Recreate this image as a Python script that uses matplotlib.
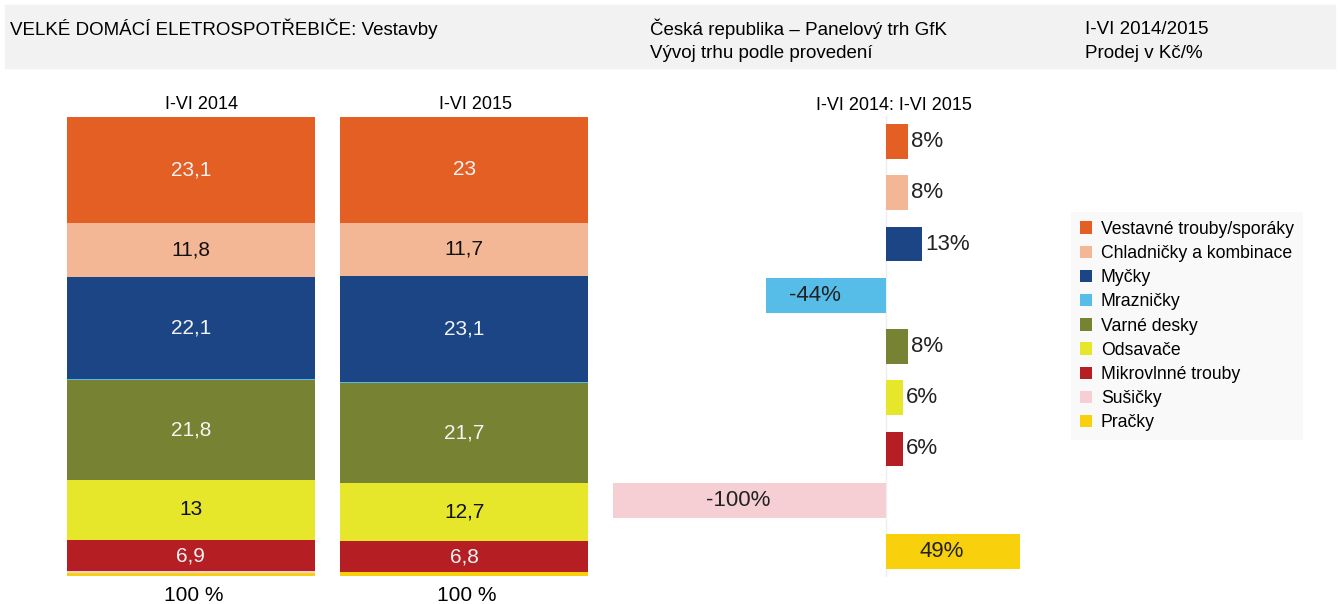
import matplotlib
matplotlib.use("Agg")
import matplotlib.pyplot as plt
from matplotlib.patches import Patch, Rectangle

plt.rcParams['font.family'] = ['Liberation Sans', 'DejaVu Sans']

# =============================================================================
# data
# =============================================================================

categories = ["Vestavné trouby/sporáky", "Chladničky a kombinace", "Myčky",
              "Mrazničky", "Varné desky", "Odsavače", "Mikrovlnné trouby",
              "Sušičky", "Pračky"]
colors = ["#e35f24", "#f4b795", "#1b4584", "#55bde8", "#778233",
          "#e6e62b", "#b51f24", "#f5cfd3", "#f8d10c"]

periods = ["I-VI 2014", "I-VI 2015"]
share_2014 = [23.1, 11.8, 22.1, 0.3, 21.8, 13.0, 6.9, 0.3, 0.7]
share_2015 = [23.0, 11.7, 23.1, 0.2, 21.7, 12.7, 6.8, 0.0, 0.8]
share_labels_2014 = ["23,1", "11,8", "22,1", "", "21,8", "13", "6,9", "", ""]
share_labels_2015 = ["23", "11,7", "23,1", "", "21,7", "12,7", "6,8", "", ""]

change = [8, 8, 13, -44, 8, 6, 6, -100, 49]

# label colour on stacked bars: white on dark, black on light
dark = [True, False, True, False, True, False, True, False, False]

W, H = 1340, 604
fig = plt.figure(figsize=(W / 100, H / 100), dpi=100)


def fx(px):
    return px / W


def fy(py):
    return 1 - py / H


# header band
fig.patches.append(Rectangle((fx(5), fy(68)), fx(1330), 63 / H,
                             transform=fig.transFigure, color="#f2f2f2", zorder=0))
HF = 13.5
fig.text(fx(10), fy(29), "VELKÉ DOMÁCÍ ELETROSPOTŘEBIČE: Vestavby", fontsize=HF, va="center")
fig.text(fx(650), fy(29), "Česká republika – Panelový trh GfK", fontsize=HF, va="center")
fig.text(fx(650), fy(54), "Vývoj trhu podle provedení", fontsize=HF, va="center")
fig.text(fx(1085), fy(29), "I-VI 2014/2015", fontsize=HF, va="center")
fig.text(fx(1085), fy(54), "Prodej v Kč/%", fontsize=HF, va="center")

# =============================================================================
# stacked shares
# =============================================================================

ax1 = fig.add_axes([fx(67), fy(576), fx(521), 459 / H])
for xi, (vals, labs) in enumerate([(share_2014, share_labels_2014),
                                    (share_2015, share_labels_2015)]):
    bottom = 0
    for v, lab, c, d in zip(vals, labs, colors, dark):
        ax1.bar(xi, v, bottom=bottom, width=0.907, color=c, edgecolor="none")
        if lab:
            ax1.text(xi, bottom + v / 2, lab, ha="center", va="center", fontsize=15,
                     color="#f4f4f4" if d else "#111111")
        bottom += v
    ax1.text(xi + 0.04, -2.7, periods[xi], ha="center", va="center", fontsize=13)
    ax1.text(xi + 0.01, 104.3, "100 %", ha="center", va="center", fontsize=15)
ax1.set_xlim(-0.4535, 1.4535)
ax1.set_ylim(100, 0)
ax1.axis("off")

# =============================================================================
# change 2014 : 2015
# =============================================================================

ax2 = fig.add_axes([fx(613), fy(577), fx(437), 461 / H])
rows = list(range(len(categories)))
ax2.barh(rows, change, height=0.68, color=colors, edgecolor="none")
ax2.axvline(0, color="#eeeeee", lw=1, zorder=0)
for r, v in zip(rows, change):
    if abs(v) >= 40:
        ax2.text(v / 2 - 4, r, f"{v}%", ha="center", va="center", fontsize=16,
                 color="#222222")
    else:
        ax2.text(v + 1.2, r, f"{v}%", ha="left", va="center", fontsize=16,
                 color="#222222")
ax2.text(3, -0.71, "I-VI 2014: I-VI 2015", ha="center", va="center", fontsize=13)
ax2.set_xlim(-100, 60)
ax2.set_ylim(8.5, -0.5)
ax2.axis("off")

# legend
handles = [Patch(facecolor=c, edgecolor="none") for c in colors]
leg = fig.legend(handles, categories, loc="upper left",
                 bbox_to_anchor=(fx(1062), fy(203)), fontsize=12.7,
                 handlelength=0.7, handleheight=0.7, handletextpad=0.5,
                 labelspacing=0.41, borderpad=0.5, frameon=True, fancybox=False)
leg.get_frame().set_facecolor("#f8f8f8")
leg.get_frame().set_edgecolor("none")

fig.savefig("out.png", dpi=100)
